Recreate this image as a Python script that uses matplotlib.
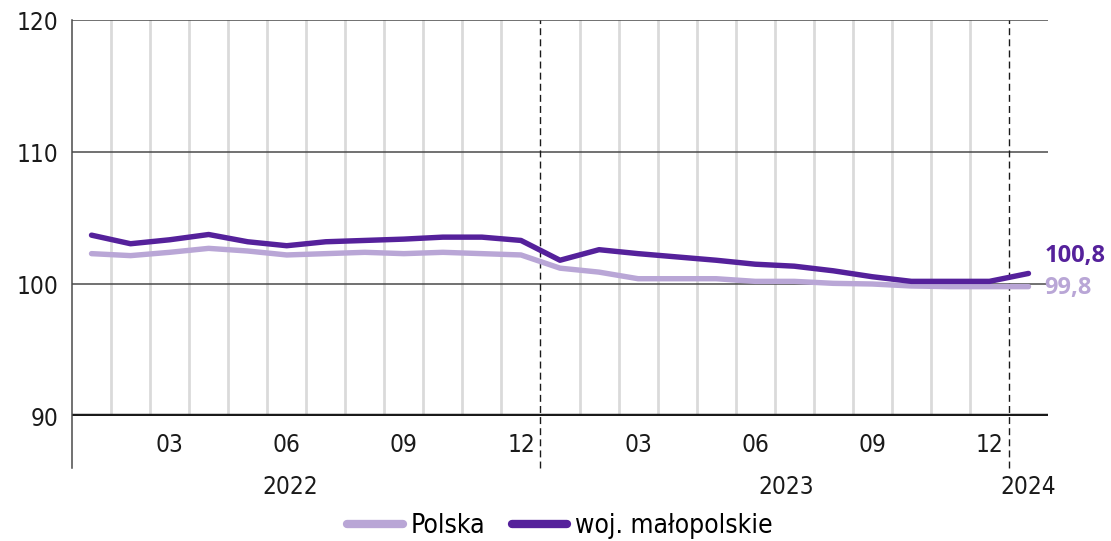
import matplotlib.pyplot as plt
import matplotlib.transforms as mtransforms
from matplotlib.lines import Line2D

# months Jan 2022 .. Jan 2024
months = list(range(25))
polska = [102.3, 102.15, 102.4, 102.7, 102.5, 102.2, 102.3, 102.4, 102.3, 102.4, 102.3, 102.2,
          101.2, 100.9, 100.4, 100.4, 100.4, 100.2, 100.2, 100.05, 100.0, 99.85, 99.8, 99.8,
          99.8]
malopolskie = [103.7, 103.05, 103.35, 103.75, 103.2, 102.9, 103.2, 103.3, 103.4, 103.55, 103.55, 103.3,
               101.8, 102.6, 102.3, 102.05, 101.8, 101.5, 101.35, 101.0, 100.55, 100.2, 100.2, 100.2,
               100.8]
tick_pos = [2, 5, 8, 11, 14, 17, 20, 23]
tick_labels = ["03", "06", "09", "12", "03", "06", "09", "12"]
years = ["2022", "2023", "2024"]
year_pos = [5.1, 17.8, 24.0]
yticks = [90, 100, 110, 120]

c_dark = "#55219b"
c_light = "#b9a6d6"

plt.rcParams["font.family"] = ["Liberation Sans Narrow", "DejaVu Sans"]
plt.rcParams["font.stretch"] = "condensed"

fig = plt.figure(figsize=(11.11, 5.41), dpi=100)
ax = fig.add_axes([72 / 1111, 1 - 416 / 541, (1048 - 72) / 1111, 396 / 541])
ax.set_xlim(-0.5, 24.5)
ax.set_ylim(90, 120)

for s in ax.spines.values():
    s.set_visible(False)

# vertical month separators
for i in range(24):
    x = i + 0.5
    if x in (11.5, 23.5):
        continue
    ax.axvline(x, color="#dadada", lw=2, zorder=1)

# horizontal gridlines
for v in [100, 110, 120]:
    ax.axhline(v, color="#4a4a4a", lw=1.1, zorder=2)
ax.axhline(90, color="#1a1a1a", lw=3.2, zorder=3)

# left axis line and year separators reaching below the plot
ext = -52 / 396
ax.axvline(-0.5, ymin=ext, ymax=1, color="#4a4a4a", lw=1.1, clip_on=False, zorder=3)
for x in (11.5, 23.5):
    ax.axvline(x, ymin=ext, ymax=1, color="#1a1a1a", lw=1, ls=(0, (5, 3)),
               clip_on=False, zorder=3)

ax.plot(months, polska, color=c_light, lw=3.9, solid_capstyle="round", zorder=4)
ax.plot(months, malopolskie, color=c_dark, lw=3.9, solid_capstyle="round", zorder=5)

ax.set_yticks(yticks)
ax.set_yticklabels([str(v) for v in yticks], fontsize=17.5)
ax.set_xticks(tick_pos)
ax.set_xticklabels(tick_labels, fontsize=17.5)
ax.tick_params(axis="both", length=0, colors="#1a1a1a")
ax.tick_params(axis="x", pad=12)
ax.tick_params(axis="y", pad=10)

trans = mtransforms.blended_transform_factory(ax.transData, ax.transAxes)
for lab, xp in zip(years, year_pos):
    ax.text(xp, -71 / 396, lab, transform=trans, ha="center", va="center",
            fontsize=17.5, color="#1a1a1a")

# end labels
ax.text(24.4, malopolskie[-1] + 1.35, "100,8", color=c_dark, fontsize=17,
        fontweight="bold", family="Open Sans", stretch="normal",
        ha="left", va="center", clip_on=False)
ax.text(24.4, polska[-1] - 0.1, "99,8", color=c_light, fontsize=17,
        fontweight="bold", family="Open Sans", stretch="normal",
        ha="left", va="center", clip_on=False)

handles = [Line2D([], [], color=c_light, lw=6, solid_capstyle="round"),
           Line2D([], [], color=c_dark, lw=6, solid_capstyle="round")]
fig.legend(handles, ["Polska", "woj. małopolskie"], loc="center",
           bbox_to_anchor=(560 / 1111, 1 - 526 / 541), ncol=2, frameon=False,
           fontsize=19, handlelength=2.1, handletextpad=0.3, columnspacing=1.0)

fig.savefig("out.png", dpi=100)
